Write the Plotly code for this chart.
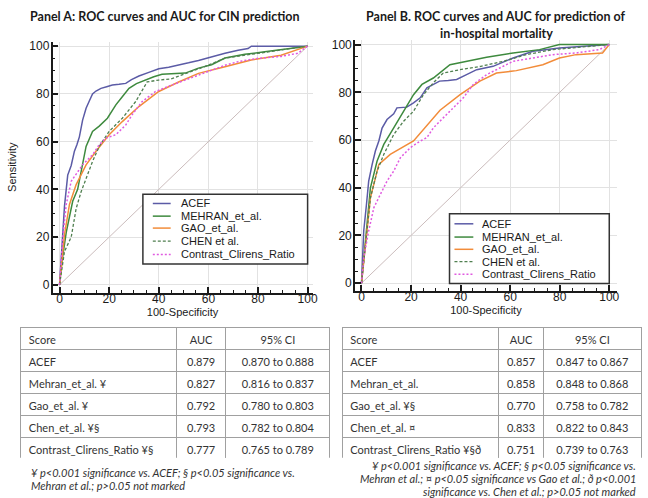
import plotly.graph_objects as go

W, H = 648, 498

# ---------------- data: Panel A (CIN prediction) ----------------
SERIES_NAMES = ["ACEF", "MEHRAN_et_al.", "GAO_et_al.", "CHEN et al.", "Contrast_Clirens_Ratio"]

A_ACEF_X = [0, 0.7, 1.3, 2, 2.7, 3.3, 4.7, 6, 7, 8, 9.3, 10.7, 12, 13.3, 14.7, 16.7, 19, 21.3, 24, 26.7, 29, 32, 36, 40, 44, 48, 52, 56, 61, 66.7, 72, 76, 77.3, 85, 100]
A_ACEF_Y = [0, 12, 22, 33, 40, 46, 50, 56, 58.7, 62, 69, 74, 77, 80, 81.2, 82.3, 83, 83.7, 84, 84.4, 86, 87.5, 89, 90.5, 91.2, 92, 93, 94, 95.5, 97, 98.3, 99, 100, 100, 100]

A_MEHRAN_X = [0, 1, 2.7, 5.3, 7.3, 9.3, 10.7, 13.3, 16, 19.3, 22.7, 25.3, 28, 31, 34.7, 38, 41.3, 46, 50.7, 56, 61.3, 66.7, 74.7, 82.7, 90.7, 100]
A_MEHRAN_Y = [0, 10, 22, 35, 40, 50, 58, 64.3, 66.5, 69.8, 75.4, 78.8, 82.3, 84.3, 86, 87.2, 88.2, 88.5, 88.7, 90.8, 92.2, 95, 96.6, 97.6, 98.7, 100]

A_GAO_X = [0, 2, 4, 6.7, 10.7, 14.7, 20, 25.3, 32, 40, 48, 56, 66.7, 77.3, 89.3, 100]
A_GAO_Y = [0, 21, 33.7, 42, 50.3, 56, 62.9, 68.4, 74.7, 81, 85, 88.6, 91.4, 94.2, 96.2, 100]

A_CHEN_X = [0, 2, 4.7, 6.7, 8.7, 10.7, 13.3, 16, 20, 25.3, 30.7, 35.3, 40, 45, 50.7, 58.7, 66.7, 74.7, 82.7, 90.7, 100]
A_CHEN_Y = [0, 14, 20, 32, 39, 44.8, 51.7, 58, 64.3, 69.8, 76.8, 85, 85.8, 86.3, 88.5, 91.5, 95, 96.2, 97.4, 98.3, 100]

A_CCR_X = [0, 1.3, 2.7, 4.7, 9.3, 13.3, 16, 18.7, 22.7, 24, 26.7, 29.3, 33.3, 38.7, 42, 45.3, 50.7, 56, 61.3, 66.7, 72, 80, 89.3, 96, 100]
A_CCR_Y = [0, 19.7, 33.7, 43.4, 50.3, 54.5, 58.7, 61.5, 62.9, 64.3, 67, 71.3, 76.8, 81, 82.5, 83.7, 85.8, 87.9, 90, 92, 93.5, 94.9, 95.7, 97, 100]

# ---------------- data: Panel B (in-hospital mortality) ----------------
B_ACEF_X = [0, 0.9, 2, 2.9, 4.3, 5.6, 7, 8.3, 10.3, 13, 14.3, 18.3, 21, 23.7, 26.4, 29, 31.5, 35, 38.4, 42.4, 46.5, 53.1, 61.2, 69.2, 79.9, 100]
B_ACEF_Y = [0, 21.9, 33, 42.8, 49.8, 55.4, 59.6, 65, 68.6, 71, 73.5, 73.8, 75.6, 77.7, 81.9, 83.3, 84.7, 85, 85.4, 87.4, 89.5, 90.9, 94.4, 97.2, 98.6, 100]

B_MEHRAN_X = [0, 1.6, 3.6, 6.3, 9, 13, 17, 21, 24.4, 29, 35.7, 42.4, 50.5, 61.2, 71.9, 79.9, 100]
B_MEHRAN_Y = [0, 19, 40, 51.2, 58.2, 65.1, 72.1, 79, 83.3, 86, 91.6, 93, 94.7, 96.5, 97.9, 100, 100]

B_GAO_X = [0, 1.6, 3.6, 7, 11.6, 21, 31.7, 39.8, 47.8, 54.5, 62.5, 73.2, 79.9, 86.6, 97.3, 100]
B_GAO_Y = [0, 15, 35.8, 49.8, 54, 59.6, 72.5, 79, 84.7, 88.1, 89.1, 91.6, 94.4, 95.8, 96.5, 100]

B_CHEN_X = [0, 1.6, 3.6, 6.3, 9, 13, 17, 21, 25, 29, 33, 39.8, 48.2, 57.2, 66.5, 77.2, 100]
B_CHEN_Y = [0, 16.3, 35.8, 47, 54, 62.3, 67.9, 72.1, 79, 84, 88.1, 89.5, 90.9, 93, 95.8, 97.9, 100]

B_CCR_X = [0, 0.9, 2.9, 5, 7.6, 10.3, 13, 15.7, 19.7, 23.7, 26.4, 29, 33, 37.1, 41.1, 45.1, 50.5, 55.8, 61.2, 69.2, 77.2, 86.6, 96, 100]
B_CCR_Y = [0, 10.7, 21.9, 31.7, 37.2, 42.8, 47, 52.6, 56.8, 59.6, 61, 65.1, 69.3, 73.5, 77.7, 83.3, 87.4, 90.2, 93, 94.4, 95.8, 96.5, 97.9, 100]

DIAG = [0, 100]
TICKS = [0, 20, 40, 60, 80, 100]

# ---------------- tables ----------------
TABLE_HEADER = ["Score", "AUC", "95% CI"]
A_SCORES = ["ACEF", "Mehran_et_al. ¥", "Gao_et_al. ¥", "Chen_et_al. ¥§", "Contrast_Clirens_Ratio ¥§"]
A_AUC = ["0.879", "0.827", "0.792", "0.793", "0.777"]
A_CI = ["0.870 to 0.888", "0.816 to 0.837", "0.780 to 0.803", "0.782 to 0.804", "0.765 to 0.789"]
B_SCORES = ["ACEF", "Mehran_et_al.", "Gao_et_al. ¥§", "Chen_et_al. ¤", "Contrast_Clirens_Ratio ¥§ð"]
B_AUC = ["0.857", "0.858", "0.770", "0.833", "0.751"]
B_CI = ["0.847 to 0.867", "0.848 to 0.868", "0.758 to 0.782", "0.822 to 0.843", "0.739 to 0.763"]

A_NOTES = ["¥ p<0.001 significance vs. ACEF; § p<0.05 significance vs.",
           "Mehran et al.; p>0.05 not marked"]
B_NOTES = ["¥ p<0.001 significance vs. ACEF; § p<0.05 significance vs.",
           "Mehran et al.; ¤ p<0.05 significance vs Gao et al.; ð p<0.001",
           "significance vs. Chen et al.; p>0.05 not marked"]

TITLE_A = "Panel A: ROC curves and AUC for CIN prediction"
TITLE_B = ["Panel B. ROC curves and AUC for prediction of", "in-hospital mortality"]

# ---------------- styles ----------------
STYLES = [
    dict(color="#5b5ba6", width=1.5, dash="solid"),
    dict(color="#3e8a3e", width=1.5, dash="solid"),
    dict(color="#f28c3a", width=1.5, dash="solid"),
    dict(color="#4f7f4f", width=1.3, dash="3px,2px"),
    dict(color="#e05ae0", width=1.5, dash="2px,2px"),
]

def px(x):
    return x / W

def py(y):
    return 1 - y / H

fig = go.Figure()

panels = [
    ("x", "y", [(A_ACEF_X, A_ACEF_Y), (A_MEHRAN_X, A_MEHRAN_Y), (A_GAO_X, A_GAO_Y), (A_CHEN_X, A_CHEN_Y), (A_CCR_X, A_CCR_Y)]),
    ("x2", "y2", [(B_ACEF_X, B_ACEF_Y), (B_MEHRAN_X, B_MEHRAN_Y), (B_GAO_X, B_GAO_Y), (B_CHEN_X, B_CHEN_Y), (B_CCR_X, B_CCR_Y)]),
]

for xa, ya, series in panels:
    fig.add_trace(go.Scatter(x=DIAG, y=DIAG, mode="lines", xaxis=xa, yaxis=ya,
                             line=dict(color="#cbbcbc", width=1), showlegend=False, hoverinfo="skip"))
    for name, (xs, ys), st in zip(SERIES_NAMES, series, STYLES):
        fig.add_trace(go.Scatter(x=xs, y=ys, mode="lines", name=name, xaxis=xa, yaxis=ya,
                                 line=st, showlegend=False))

tickfont = dict(family="Liberation Sans, Arial", size=12, color="#1a1a1a")
common_axis = dict(
    tickvals=TICKS, ticks="inside", ticklen=6, tickwidth=1.5, tickcolor="#1a1a1a",
    minor=dict(dtick=5, ticks="inside", ticklen=3, tickcolor="#1a1a1a", tickwidth=1, showgrid=False),
    showline=True, linecolor="#1a1a1a", linewidth=1.6,
    showgrid=True, gridcolor="#e2e2e2", gridwidth=1, zeroline=False,
    tickfont=tickfont,
)
axis_title_font = dict(family="Liberation Sans, Arial", size=11, color="#1a1a1a")

fig.update_layout(
    width=W, height=H,
    margin=dict(l=0, r=0, t=0, b=0),
    paper_bgcolor="white", plot_bgcolor="white",
    xaxis=dict(domain=[px(53), px(315)], range=[-2.8, 102], anchor="y", ticklabelstandoff=-6,
               title=dict(text="100-Specificity", font=axis_title_font, standoff=0), **common_axis),
    yaxis=dict(domain=[py(291.7), py(40)], range=[-3.2, 101.8], anchor="x", ticklabelstandoff=-1,
               title=dict(text="Sensitivity", font=axis_title_font, standoff=10), **common_axis),
    xaxis2=dict(domain=[px(357.7), px(621.7)], range=[-2.65, 103.1], anchor="y2", ticklabelstandoff=-6,
                title=dict(text="100-Specificity", font=axis_title_font, standoff=0), **common_axis),
    yaxis2=dict(domain=[py(290), py(38)], range=[-3.2, 102], anchor="x2", ticklabelstandoff=-1, **common_axis),
)

# ---------------- legends (drawn boxes) ----------------
shapes = []
annotations = []
legend_specs = [
    dict(box=(144, 193, 310, 263), line_x=(154, 172), text_x=180, rows=[202.3, 215, 227, 240, 253.5]),
    dict(box=(453, 212.7, 614, 282.7), line_x=(458, 477), text_x=484, rows=[222.7, 236, 248.3, 260.7, 273.3]),
]
for spec in legend_specs:
    x0, y0, x1, y1 = spec["box"]
    shapes.append(dict(type="rect", xref="paper", yref="paper", x0=px(x0), x1=px(x1), y0=py(y1), y1=py(y0),
                       line=dict(color="#333333", width=1.5), fillcolor="white"))
    for name, st, ry in zip(SERIES_NAMES, STYLES, spec["rows"]):
        shapes.append(dict(type="line", xref="paper", yref="paper", x0=px(spec["line_x"][0]), x1=px(spec["line_x"][1]),
                           y0=py(ry), y1=py(ry), line=st))
        annotations.append(dict(text=name, xref="paper", yref="paper", x=px(spec["text_x"]), y=py(ry),
                                xanchor="left", yanchor="middle", showarrow=False,
                                font=dict(family="Liberation Sans, Arial", size=11, color="#1a1a1a")))

# ---------------- titles ----------------
title_font = dict(family="Lato", size=12.5, color="#1a1a1a", weight="bold")
annotations.append(dict(text=TITLE_A, xref="paper", yref="paper", x=px(166), y=py(15),
                        xanchor="center", yanchor="middle", showarrow=False, font=title_font))
for txt, ty in zip(TITLE_B, [15, 31.5]):
    annotations.append(dict(text=txt, xref="paper", yref="paper", x=px(500), y=py(ty),
                            xanchor="center", yanchor="middle", showarrow=False, font=title_font))

# ---------------- footnotes ----------------
note_font = dict(family="Lato", size=11, color="#333333", style="italic")
for txt, ty in zip(A_NOTES, [472, 485]):
    annotations.append(dict(text=txt, xref="paper", yref="paper", x=px(29), y=py(ty),
                            xanchor="left", yanchor="middle", showarrow=False, font=note_font))
for txt, ty in zip(B_NOTES, [465.5, 478.5, 491.2]):
    annotations.append(dict(text=txt, xref="paper", yref="paper", x=px(643), y=py(ty),
                            xanchor="right", yanchor="middle", showarrow=False, font=note_font))

fig.update_layout(shapes=shapes, annotations=annotations)

# ---------------- tables ----------------
cell_font = dict(family="Lato", size=11, color="#333333")
for scores, aucs, cis, xr, widths in [
    (A_SCORES, A_AUC, A_CI, (21, 333), [157, 50, 105]),
    (B_SCORES, B_AUC, B_CI, (345, 647), [158, 45, 99]),
]:
    fig.add_trace(go.Table(
        domain=dict(x=[px(xr[0]), px(xr[1])], y=[py(458), py(327)]),
        columnwidth=widths,
        header=dict(values=TABLE_HEADER, align=["left", "center", "center"], height=22,
                    fill_color="white", line=dict(color="#a0a0a0", width=1), font=cell_font),
        cells=dict(values=[scores, aucs, cis], align=["left", "center", "center"], height=22,
                   fill_color="white", line=dict(color="#a0a0a0", width=1), font=cell_font),
    ))

fig.write_html("out.html", config={"displayModeBar": False},
               post_script="document.body.style.margin='0px';")
